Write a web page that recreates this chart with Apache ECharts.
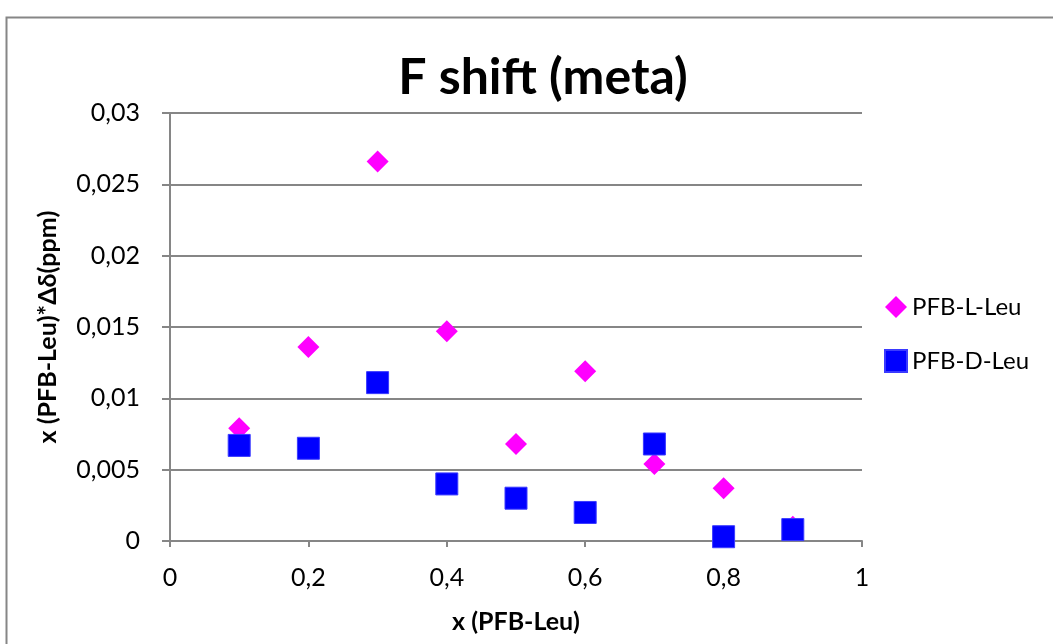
<!DOCTYPE html>
<html>
<head>
<meta charset="utf-8">
<script src="https://cdn.jsdelivr.net/npm/echarts@6/dist/echarts.min.js"></script>
<style>
  html, body { margin: 0; padding: 0; background: #ffffff; }
  #chart { width: 1053px; height: 644px; }
</style>
</head>
<body>
<div id="chart"></div>
<script>
// Mole fraction of PFB-Leu
const xValues = [0.1, 0.2, 0.3, 0.4, 0.5, 0.6, 0.7, 0.8, 0.9];
// x * Δδ (ppm) for each enantiomer
const lLeu = [0.0079, 0.0136, 0.0266, 0.0147, 0.0068, 0.0119, 0.0054, 0.0037, 0.0010];
const dLeu = [0.0067, 0.0065, 0.0111, 0.0040, 0.0030, 0.0020, 0.0068, 0.0003, 0.0008];
const seriesNames = ['PFB-L-Leu', 'PFB-D-Leu'];

const FONT = 'Lato, "Open Sans", sans-serif';
const GRAY = '#868686';

function pairs(xs, ys) { return xs.map((x, i) => [x, ys[i]]); }
function comma(v) { return String(v).replace('.', ','); }

const chart = echarts.init(document.getElementById('chart'));
chart.setOption({
  backgroundColor: '#ffffff',
  animation: false,
  title: {
    text: 'F shift (meta)',
    left: 538, top: 48, textAlign: 'center',
    textStyle: { fontFamily: FONT, fontWeight: 'bold', fontSize: 50, color: '#000' }
  },
  graphic: [{
    type: 'rect', left: 4, top: 15, silent: true,
    shape: { width: 1100, height: 700 },
    style: { fill: 'none', stroke: GRAY, lineWidth: 2 }
  }],
  legend: {
    orient: 'vertical', left: 879, top: 290, itemGap: 30,
    itemWidth: 22, itemHeight: 22,
    textStyle: { fontFamily: FONT, fontSize: 24, color: '#000' },
    data: [
      { name: seriesNames[0], icon: 'diamond' },
      { name: seriesNames[1], icon: 'rect' }
    ]
  },
  grid: { left: 170, top: 113, right: 191, bottom: 103, containLabel: false },
  xAxis: {
    type: 'value', min: 0, max: 1, interval: 0.2,
    name: 'x (PFB-Leu)', nameLocation: 'middle', nameGap: 68,
    nameTextStyle: { fontFamily: FONT, fontWeight: 'bold', fontSize: 25, color: '#000' },
    axisLine: { show: true, lineStyle: { color: GRAY, width: 2 } },
    axisTick: { show: true, length: 6, lineStyle: { color: GRAY, width: 2 } },
    axisLabel: { fontFamily: FONT, fontSize: 25, color: '#000', margin: 24, formatter: comma },
    splitLine: { show: false }
  },
  yAxis: {
    type: 'value', min: 0, max: 0.03, interval: 0.005,
    name: 'x (PFB-Leu)*Δδ(ppm)', nameLocation: 'middle', nameGap: 110, nameRotate: 90,
    nameTextStyle: { fontFamily: FONT, fontWeight: 'bold', fontSize: 25, color: '#000' },
    axisLine: { show: true, lineStyle: { color: GRAY, width: 2 } },
    axisTick: { show: true, length: 8, lineStyle: { color: GRAY, width: 2 } },
    axisLabel: { fontFamily: FONT, fontSize: 25, color: '#000', margin: 30, formatter: comma },
    splitLine: { show: true, lineStyle: { color: GRAY, width: 2 } }
  },
  series: [
    {
      name: seriesNames[0], type: 'scatter', symbol: 'diamond', symbolSize: 22,
      itemStyle: { color: '#FF00FF', opacity: 1 },
      data: pairs(xValues, lLeu)
    },
    {
      name: seriesNames[1], type: 'scatter', symbol: 'rect', symbolSize: 22,
      itemStyle: { color: '#0000FF', borderColor: '#3a3aff', borderWidth: 1, opacity: 1 },
      data: pairs(xValues, dLeu)
    }
  ]
});
</script>
</body>
</html>
